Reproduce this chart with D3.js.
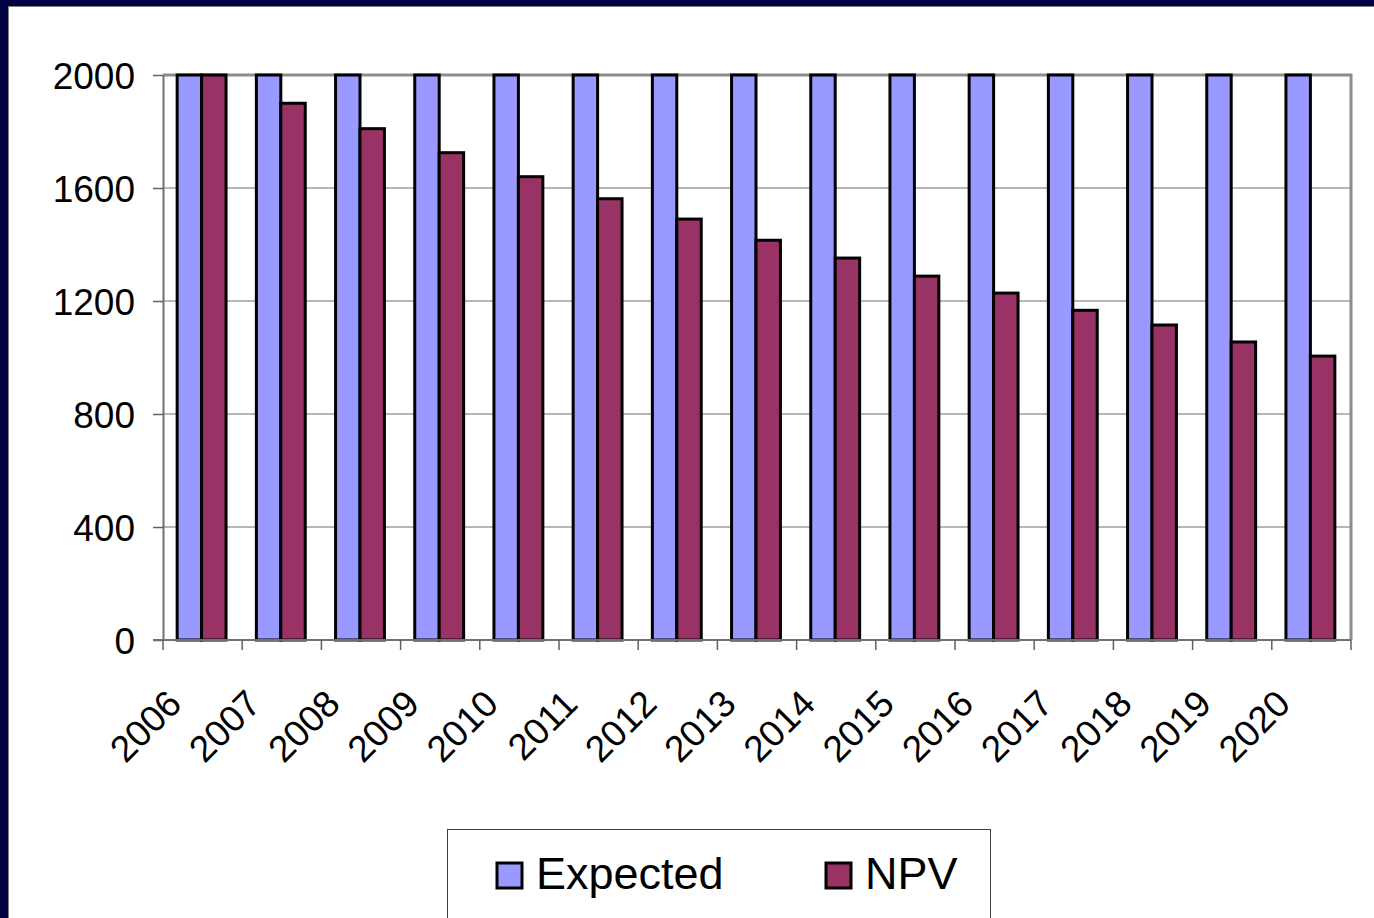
<!DOCTYPE html>
<html><head><meta charset="utf-8">
<script src="https://cdn.jsdelivr.net/npm/d3@7"></script>
<style>html,body{margin:0;padding:0;background:#fff;overflow:hidden}</style>
</head><body>
<svg id="chart" width="1374" height="918"></svg>
<script>
const years = ["2006","2007","2008","2009","2010","2011","2012","2013","2014","2015","2016","2017","2018","2019","2020"];
const expected = [2000,2000,2000,2000,2000,2000,2000,2000,2000,2000,2000,2000,2000,2000,2000];
const npv = [2000,1900,1810,1725,1640,1562,1490,1415,1352,1288,1228,1167,1115,1055,1005];
const seriesNames = ["Expected","NPV"];
const yTicks = [0,400,800,1200,1600,2000];
const colors = {Expected:"#9999ff", NPV:"#993366"};

const svg = d3.select("#chart");
const font = "Liberation Sans, Arial, sans-serif";
// frame
svg.append("rect").attr("x",0).attr("y",0).attr("width",1374).attr("height",918).attr("fill","#ffffff");
svg.append("rect").attr("x",0).attr("y",0).attr("width",1374).attr("height",6).attr("fill","#000042");
svg.append("rect").attr("x",0).attr("y",0).attr("width",8).attr("height",918).attr("fill","#000042");
svg.append("line").attr("x1",8).attr("x2",1374).attr("y1",6.5).attr("y2",6.5).attr("stroke","#808080").attr("stroke-width",1);
svg.append("line").attr("x1",8.5).attr("x2",8.5).attr("y1",6).attr("y2",918).attr("stroke","#808080").attr("stroke-width",1);

const L=163, R=1351, T=75, B=640;
const x = d3.scaleBand().domain(years).range([L,R]).padding(0);
const xs = d3.scaleBand().domain(seriesNames).range([0,x.bandwidth()]).paddingInner(0).paddingOuter(0.62);
const y = d3.scaleLinear().domain([0,2000]).range([B,T]);

// gridlines
svg.append("g").selectAll("line").data(yTicks.filter(d=>d>0 && d<2000)).join("line")
  .attr("x1",L).attr("x2",R).attr("y1",d=>y(d)).attr("y2",d=>y(d))
  .attr("stroke","#707070").attr("stroke-width",1.2);

// plot area border (top/right)
svg.append("path").attr("d",`M${L},${T}H${R}V${B}`).attr("fill","none").attr("stroke","#8c8c8c").attr("stroke-width",3);

// bars
const data = years.map((yr,i)=>({year:yr, vals:[{k:"Expected",v:expected[i]},{k:"NPV",v:npv[i]}]}));
const g = svg.append("g").selectAll("g").data(data).join("g").attr("transform",d=>`translate(${x(d.year)-1},0)`);
g.selectAll("rect").data(d=>d.vals).join("rect")
  .attr("x",d=>xs(d.k)).attr("width",xs.bandwidth())
  .attr("y",d=>y(d.v)).attr("height",d=>y(0)-y(d.v))
  .attr("fill",d=>colors[d.k]).attr("stroke","#000").attr("stroke-width",3);

// y axis
const yAxis = d3.axisLeft(y).tickValues(yTicks).tickSize(10).tickSizeOuter(0).tickPadding(18).tickFormat(d3.format("d"));
const ya = svg.append("g").attr("transform",`translate(${L},0)`).call(yAxis);
ya.select(".domain").attr("stroke","#707070").attr("stroke-width",2);
ya.selectAll(".tick line").attr("stroke","#606060").attr("stroke-width",1.5);
ya.selectAll("text").attr("font-family",font).attr("font-size",37).attr("fill","#000").attr("dy","0.36em");

// x axis
const xa = svg.append("g").attr("transform",`translate(0,${B})`);
xa.append("line").attr("x1",L-10).attr("x2",R).attr("y1",0).attr("y2",0).attr("stroke","#707070").attr("stroke-width",2);
const bounds = years.map(d=>x(d)).concat([R]);
xa.selectAll("line.tk").data(bounds).join("line").attr("class","tk")
  .attr("x1",d=>d).attr("x2",d=>d).attr("y1",0).attr("y2",10).attr("stroke","#606060").attr("stroke-width",1.5);
xa.selectAll("text").data(years).join("text")
  .attr("transform",d=>`translate(${x(d)+x.bandwidth()/2-19},${66}) rotate(-45)`)
  .attr("text-anchor","end").attr("font-family",font).attr("font-size",37).attr("fill","#000").text(d=>d);

// legend
const lg = svg.append("g");
lg.append("rect").attr("x",447.5).attr("y",829.5).attr("width",543).attr("height",100).attr("fill","#fff").attr("stroke","#404040").attr("stroke-width",1);
const items = [{k:"Expected",x:497},{k:"NPV",x:826}];
items.forEach(it=>{
  lg.append("rect").attr("x",it.x).attr("y",863).attr("width",25).attr("height",25).attr("fill",colors[it.k]).attr("stroke","#000").attr("stroke-width",3);
  lg.append("text").attr("x",it.x+39).attr("y",889).attr("font-family",font).attr("font-size",45).attr("fill","#000").text(it.k);
});
</script>
</body></html>
